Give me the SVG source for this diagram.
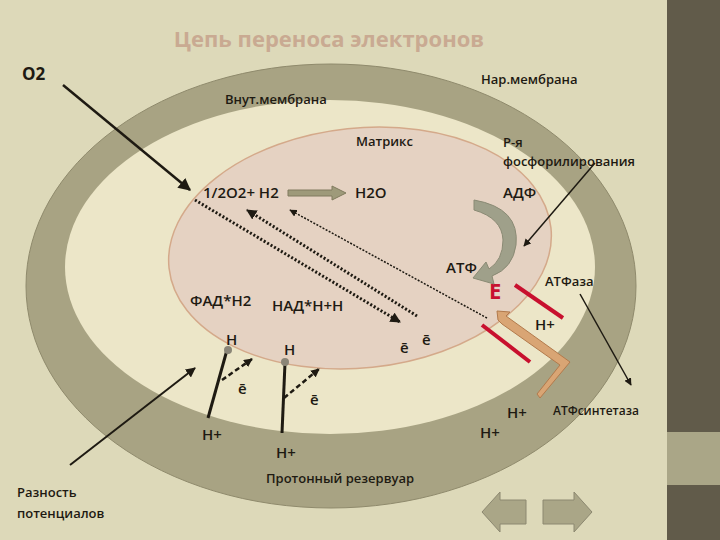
<svg xmlns="http://www.w3.org/2000/svg" width="720" height="540" viewBox="0 0 720 540">
<defs>
<style>
text{font-family:"Open Sans","Liberation Sans",sans-serif;fill:#1e1a12;font-weight:600}
.s{font-size:13px}
.m{font-size:15px}
.b{font-size:17px;font-weight:bold}
.ln{stroke:#1e1a12;fill:none}
</style>
<marker id="ah" viewBox="0 0 10 10" refX="9" refY="5" markerWidth="5" markerHeight="5" orient="auto"><path d="M0,0L10,5L0,10z" fill="#1e1a12"/></marker>
<marker id="ah2" viewBox="0 0 10 10" refX="9" refY="5" markerWidth="3.5" markerHeight="3.5" orient="auto"><path d="M0,0L10,5L0,10z" fill="#1e1a12"/></marker>
</defs>
<rect width="720" height="540" fill="#ddd9b9"/>
<rect x="667" y="0" width="53" height="540" fill="#615b4a"/>
<rect x="667" y="432" width="53" height="53" fill="#aaa687"/>
<g id="membranes">
<ellipse cx="331" cy="286" rx="305" ry="222" fill="#a8a383" stroke="#8f8a6c"/>
<ellipse cx="330" cy="267" rx="265" ry="167" fill="#ece6c8"/>
<ellipse cx="360" cy="248" rx="192" ry="120" transform="rotate(-6 360 248)" fill="#e5d2c2" stroke="#d4a98a" stroke-width="1.5"/>
</g>
<text x="329" y="47" text-anchor="middle" style="font-size:22px;font-weight:bold;fill:#c9aa92">Цепь переноса электронов</text>
<g id="labels">
<text x="22" y="80" class="b">O2</text>
<text x="225" y="104" class="s">Внут.мембрана</text>
<text x="481" y="84" class="s">Нар.мембрана</text>
<text x="356" y="146" class="s">Матрикс</text>
<text x="503" y="147" class="s">Р-я</text>
<text x="503" y="166" class="s">фосфорилирования</text>
<text x="203" y="198" class="m">1/2O2+ H2</text>
<text x="355" y="198" class="m">H2O</text>
<text x="503" y="198" class="m">АДФ</text>
<text x="446" y="273" class="m">АТФ</text>
<text x="489" y="299" style="font-size:22px;font-weight:bold;fill:#c8102e">E</text>
<text x="545" y="286" class="s">АТФаза</text>
<text x="535" y="330" class="m">H+</text>
<text x="190" y="306" class="m">ФАД*H2</text>
<text x="272" y="311" class="m">НАД*H+H</text>
<text x="226" y="345" class="m">H</text>
<text x="284" y="355" class="m">H</text>
<text x="400" y="353" class="m">ē</text>
<text x="422" y="345" class="m">ē</text>
<text x="238" y="394" class="m">ē</text>
<text x="310" y="405" class="m">ē</text>
<text x="202" y="440" class="m">H+</text>
<text x="276" y="458" class="m">H+</text>
<text x="266" y="483" class="s">Протонный резервуар</text>
<text x="480" y="438" class="m">H+</text>
<text x="507" y="418" class="m">H+</text>
<text x="553" y="415" style="font-size:12px">АТФсинтетаза</text>
<text x="17" y="497" class="s">Разность</text>
<text x="17" y="518" class="s">потенциалов</text>
</g>
<g id="connectors">
<line x1="63" y1="85" x2="190" y2="190" class="ln" stroke-width="2.5" marker-end="url(#ah)"/>
<line x1="595" y1="163" x2="524" y2="246" class="ln" stroke-width="1.5" marker-end="url(#ah)"/>
<line x1="580" y1="294" x2="631" y2="385" class="ln" stroke-width="1.5" marker-end="url(#ah)"/>
<line x1="70" y1="465" x2="195" y2="368" class="ln" stroke-width="2" marker-end="url(#ah)"/>
<line x1="195" y1="200" x2="400" y2="322" class="ln" stroke-width="3" stroke-dasharray="2 2" marker-end="url(#ah2)"/>
<line x1="417" y1="316" x2="247" y2="210" class="ln" stroke-width="3" stroke-dasharray="2 2" marker-end="url(#ah2)"/>
<line x1="487" y1="318" x2="290" y2="210" class="ln" stroke-width="1.5" stroke-dasharray="2 1.5" marker-end="url(#ah)"/>
<path d="M288,190H332V186L346,193L332,200V196H288Z" fill="#9e9a7a" stroke="#807b5e"/>
<path d="M474,200Q520,208 516,245Q513,268 492,276L494,284L473,278L486,262L489,269Q503,260 503,240Q502,218 474,210Z" fill="#9fa08a" stroke="#8a8a74"/>
<line x1="515" y1="285" x2="563" y2="318" stroke="#c8102e" stroke-width="4"/>
<line x1="482" y1="325" x2="530" y2="362" stroke="#c8102e" stroke-width="4"/>
<path d="M498,320L497,311L510,312L506,316L570,362L540,398L537,394L560,365L502,324Z" fill="#d9a574" stroke="#b27a4c"/>
<line x1="227" y1="350" x2="208" y2="418" class="ln" stroke-width="3"/>
<line x1="222" y1="380" x2="252" y2="359" class="ln" stroke-width="2.5" stroke-dasharray="5 3" marker-end="url(#ah2)"/>
<line x1="285" y1="363" x2="282" y2="433" class="ln" stroke-width="3"/>
<line x1="284" y1="398" x2="319" y2="369" class="ln" stroke-width="2.5" stroke-dasharray="5 3" marker-end="url(#ah2)"/>
<circle cx="228" cy="350" r="4" fill="#8a8577"/>
<circle cx="285" cy="362" r="4" fill="#8a8577"/>
</g>
<g id="nav" fill="#aaa687" stroke="#8c8870">
<path d="M482,512L500,492V500H526V524H500V532Z"/>
<path d="M592,512L574,492V500H543V524H574V532Z"/>
</g>
</svg>
